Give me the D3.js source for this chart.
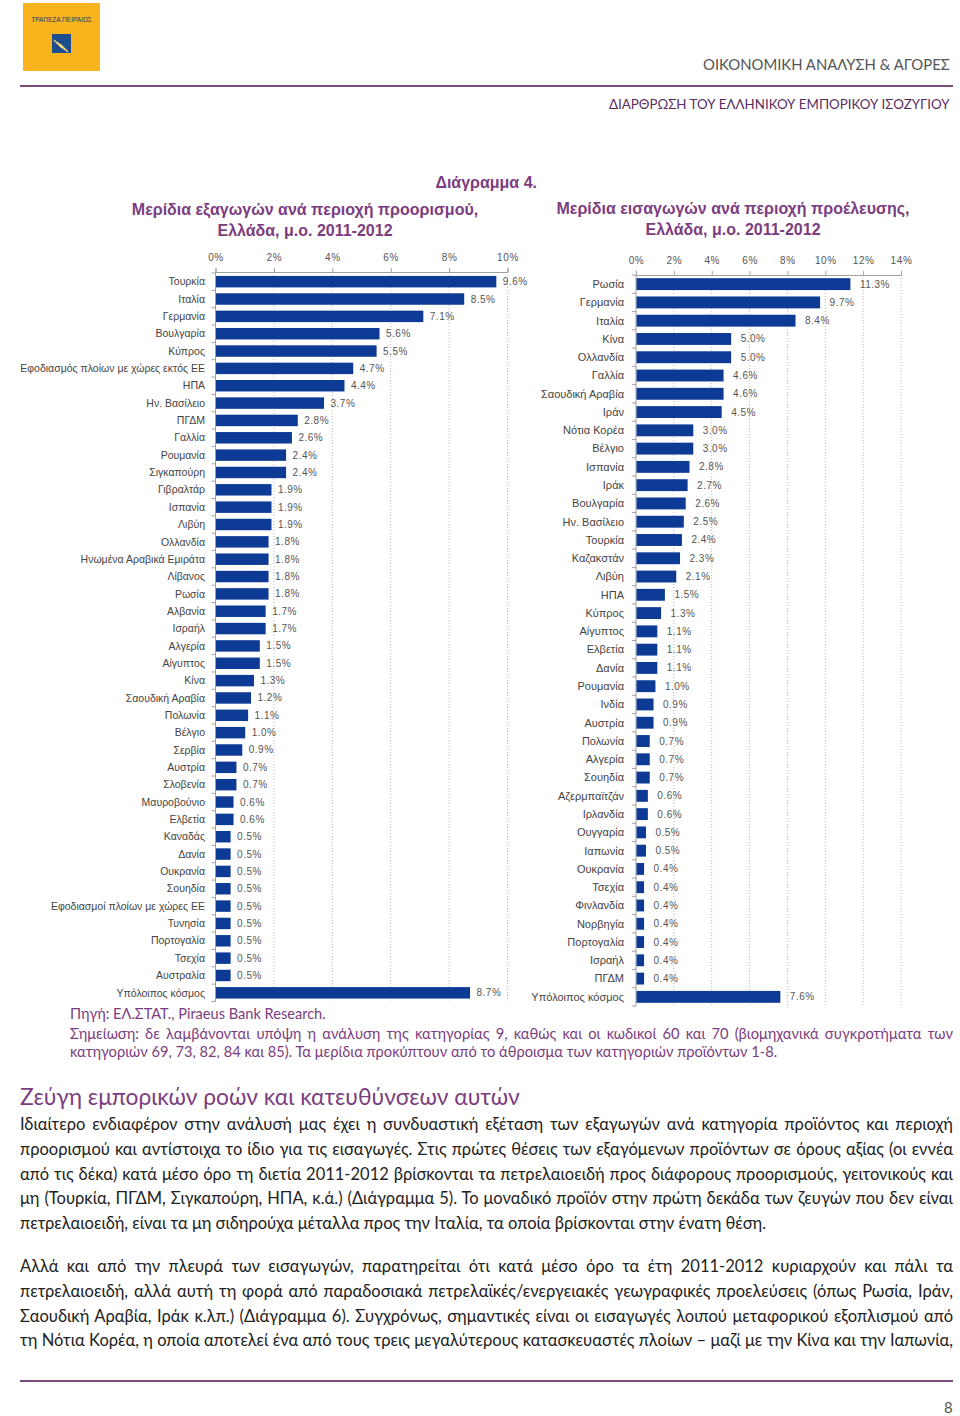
<!DOCTYPE html>
<html>
<head>
<meta charset="utf-8">
<script src="https://cdn.jsdelivr.net/npm/d3@7/dist/d3.min.js"></script>
<style>
  body { margin: 0; background: #fff; }
  #page { position: relative; width: 960px; height: 1416px; overflow: hidden; background: #fff; }
  svg { position: absolute; left: 0; top: 0; }
  .ln { position: absolute; line-height: 20px; height: 20px; font-family: "Lato", "Liberation Sans", sans-serif; white-space: normal; overflow: visible; }
  .fit { white-space: nowrap; }
  .j { text-align: justify; text-align-last: justify; }
</style>
</head>
<body>
<div id="page"></div>
<script>
// ---------------- DATA ----------------
const exportCategories = ["Τουρκία","Ιταλία","Γερμανία","Βουλγαρία","Κύπρος","Εφοδιασμός πλοίων με χώρες εκτός ΕΕ","ΗΠΑ","Ην. Βασίλειο","ΠΓΔΜ","Γαλλία","Ρουμανία","Σιγκαπούρη","Γιβραλτάρ","Ισπανία","Λιβύη","Ολλανδία","Ηνωμένα Αραβικά Εμιράτα","Λίβανος","Ρωσία","Αλβανία","Ισραήλ","Αλγερία","Αίγυπτος","Κίνα","Σαουδική Αραβία","Πολωνία","Βέλγιο","Σερβία","Αυστρία","Σλοβενία","Μαυροβούνιο","Ελβετία","Καναδάς","Δανία","Ουκρανία","Σουηδία","Εφοδιασμοί πλοίων με χώρες ΕΕ","Τυνησία","Πορτογαλία","Τσεχία","Αυστραλία","Υπόλοιπος κόσμος"];
const exportValues = [9.6,8.5,7.1,5.6,5.5,4.7,4.4,3.7,2.8,2.6,2.4,2.4,1.9,1.9,1.9,1.8,1.8,1.8,1.8,1.7,1.7,1.5,1.5,1.3,1.2,1.1,1.0,0.9,0.7,0.7,0.6,0.6,0.5,0.5,0.5,0.5,0.5,0.5,0.5,0.5,0.5,8.7];
const exportTicks = [0,2,4,6,8,10];

const importCategories = ["Ρωσία","Γερμανία","Ιταλία","Κίνα","Ολλανδία","Γαλλία","Σαουδική Αραβία","Ιράν","Νότια Κορέα","Βέλγιο","Ισπανία","Ιράκ","Βουλγαρία","Ην. Βασίλειο","Τουρκία","Καζακστάν","Λιβύη","ΗΠΑ","Κύπρος","Αίγυπτος","Ελβετία","Δανία","Ρουμανία","Ινδία","Αυστρία","Πολωνία","Αλγερία","Σουηδία","Αζερμπαϊτζάν","Ιρλανδία","Ουγγαρία","Ιαπωνία","Ουκρανία","Τσεχία","Φινλανδία","Νορβηγία","Πορτογαλία","Ισραήλ","ΠΓΔΜ","Υπόλοιπος κόσμος"];
const importValues = [11.3,9.7,8.4,5.0,5.0,4.6,4.6,4.5,3.0,3.0,2.8,2.7,2.6,2.5,2.4,2.3,2.1,1.5,1.3,1.1,1.1,1.1,1.0,0.9,0.9,0.7,0.7,0.7,0.6,0.6,0.5,0.5,0.4,0.4,0.4,0.4,0.4,0.4,0.4,7.6];
const importTicks = [0,2,4,6,8,10,12,14];

const diagramLabel = "Διάγραμμα 4.";
const exportTitle = ["Μερίδια εξαγωγών ανά περιοχή προορισμού,", "Ελλάδα, μ.ο. 2011-2012"];
const importTitle = ["Μερίδια εισαγωγών ανά περιοχή προέλευσης,", "Ελλάδα, μ.ο. 2011-2012"];

// ---------------- PAGE ----------------
const PURPLE = "#7b3d80";
const BAR = "#0c3a94";
const page = d3.select("#page");
const svg = page.append("svg").attr("width", 960).attr("height", 1416);

// Header logo
svg.append("rect").attr("x", 23).attr("y", 3).attr("width", 77).attr("height", 68).attr("fill", "#f8b31d");
svg.append("text").attr("x", 61.5).attr("y", 22).attr("text-anchor", "middle")
  .attr("font-family", "Liberation Sans Narrow, Liberation Sans, sans-serif").attr("font-size", 6.5)
  .attr("fill", "#1d3d7a").text("ΤΡΑΠΕΖΑ ΠΕΙΡΑΙΩΣ");
svg.append("rect").attr("x", 52).attr("y", 34).attr("width", 19).attr("height", 19).attr("fill", "#1c4d8f");
[0,1,2].forEach(i => {
  svg.append("path").attr("d", `M${54+i*3},${40+i*2} L${62+i*3},${48+i*2}`).attr("stroke", "#f8d77a").attr("stroke-width", 1.2);
});

// header lines
svg.append("line").attr("x1", 20).attr("x2", 953).attr("y1", 86).attr("y2", 86).attr("stroke", "#7a4d7c").attr("stroke-width", 2);
svg.append("line").attr("x1", 20).attr("x2", 953).attr("y1", 1381).attr("y2", 1381).attr("stroke", "#7a4d7c").attr("stroke-width", 2);

function addLine(text, opts) {
  const d = page.append("div").attr("class", "ln" + (opts.justify ? " j" : "") + (opts.fitWidth ? " fit" : "")).text(text)
    .style("left", opts.left + "px").style("top", (opts.cy - 10) + "px")
    .style("font-size", opts.size + "px").style("color", opts.color);
  if (opts.width) d.style("width", opts.width + "px");
  if (opts.fitWidth) {
    // scale font-size so the line spans the same width as in the reference
    const w = d.node().getBoundingClientRect().width;
    if (w > 0) d.style("font-size", (opts.size * opts.fitWidth / w) + "px");
    if (opts.right !== undefined) d.style("left", (opts.right - opts.fitWidth) + "px");
  }
  return d;
}

addLine("ΟΙΚΟΝΟΜΙΚΗ ΑΝΑΛΥΣΗ & ΑΓΟΡΕΣ", {right: 950, fitWidth: 247, cy: 64, size: 17, color: "#555"});
addLine("ΔΙΑΡΘΡΩΣΗ ΤΟΥ ΕΛΛΗΝΙΚΟΥ ΕΜΠΟΡΙΚΟΥ ΙΣΟΖΥΓΙΟΥ", {right: 950, fitWidth: 341, cy: 104, size: 15, color: "#5a2d5f"});

// Titles
const tfont = "Liberation Sans, Arial, sans-serif";
svg.append("text").attr("x", 537).attr("y", 188).attr("text-anchor", "end").attr("font-family", tfont)
  .attr("font-weight", "bold").attr("font-size", 16).attr("fill", PURPLE).text(diagramLabel);
exportTitle.forEach((t, i) => svg.append("text").attr("x", 305).attr("y", 215 + i * 21).attr("text-anchor", "middle")
  .attr("font-family", tfont).attr("font-weight", "bold").attr("font-size", 16).attr("fill", PURPLE).text(t));
importTitle.forEach((t, i) => svg.append("text").attr("x", 733).attr("y", 214 + i * 21).attr("text-anchor", "middle")
  .attr("font-family", tfont).attr("font-weight", "bold").attr("font-size", 16).attr("fill", PURPLE).text(t));

// Chart builder
function barChart(cfg) {
  const g = svg.append("g");
  const x = d3.scaleLinear().domain([0, cfg.max]).range([cfg.x0, cfg.x1]);
  const y = d3.scaleBand().domain(cfg.cats).range([cfg.y0, cfg.y1]).paddingInner(cfg.pad).paddingOuter(cfg.pad / 2);
  const data = cfg.cats.map((c, i) => ({c, v: cfg.vals[i]}));
  const font = "Liberation Sans, Arial, sans-serif";

  // gridlines
  g.selectAll(".grid").data(cfg.ticks.filter(t => t > 0)).join("line")
    .attr("x1", d => x(d)).attr("x2", d => x(d)).attr("y1", cfg.axisY).attr("y2", cfg.y1)
    .attr("stroke", "#b8b8b8").attr("stroke-width", 1).attr("stroke-dasharray", "1,2");

  // top axis
  const ax = d3.axisTop(x).tickValues(cfg.ticks).tickFormat(d => d + "%").tickSize(4).tickPadding(cfg.tickPad);
  const axg = g.append("g").attr("transform", `translate(0,${cfg.axisY})`).call(ax);
  axg.select(".domain").attr("stroke", "#a0a0a0");
  axg.selectAll(".tick line").attr("stroke", "#a0a0a0");
  axg.selectAll(".tick text").attr("font-family", font).attr("font-size", 10).attr("fill", "#555").attr("letter-spacing", 0.6);

  // left axis line + ticks at band boundaries
  g.append("line").attr("x1", cfg.x0).attr("x2", cfg.x0).attr("y1", cfg.axisY).attr("y2", cfg.y1).attr("stroke", "#a0a0a0");
  const step = y.step();
  const bounds = d3.range(cfg.cats.length + 1).map(i => cfg.y0 + i * step);
  g.selectAll(".yt").data(bounds).join("line")
    .attr("x1", cfg.x0 - 4).attr("x2", cfg.x0).attr("y1", d => d).attr("y2", d => d).attr("stroke", "#a0a0a0");

  // bars
  g.selectAll(".bar").data(data).join("rect")
    .attr("x", x(0) + 0.5).attr("y", d => y(d.c)).attr("width", d => x(d.v) - x(0)).attr("height", y.bandwidth())
    .attr("fill", BAR);

  // category labels
  g.selectAll(".cl").data(data).join("text")
    .attr("x", cfg.labelX).attr("y", d => y(d.c) + y.bandwidth() / 2).attr("dy", "0.35em").attr("text-anchor", "end")
    .attr("font-family", font).attr("font-size", cfg.labelSize).attr("fill", "#444").text(d => d.c);

  // value labels
  g.selectAll(".vl").data(data).join("text")
    .attr("x", d => x(d.v) + cfg.gap).attr("y", d => y(d.c) + y.bandwidth() / 2).attr("dy", "0.35em")
    .attr("font-family", font).attr("font-size", 10).attr("fill", "#555").attr("letter-spacing", 0.5)
    .text(d => d.v.toFixed(1) + "%");
}

barChart({cats: exportCategories, vals: exportValues, ticks: exportTicks, max: 10,
  x0: 215.5, x1: 507.5, axisY: 272, y0: 273, y1: 1001.5, pad: 0.34, labelX: 205, labelSize: 10.5, gap: 7, tickPad: 7.5});
barChart({cats: importCategories, vals: importValues, ticks: importTicks, max: 14,
  x0: 636, x1: 901, axisY: 275, y0: 275, y1: 1006, pad: 0.35, labelX: 624, labelSize: 11, gap: 10, tickPad: 7.5});

// Source & notes
addLine("Πηγή: ΕΛ.ΣΤΑΤ., Piraeus Bank Research.", {left: 70, fitWidth: 256, cy: 1014, size: 15, color: PURPLE});
addLine("Σημείωση: δε λαμβάνονται υπόψη η ανάλυση της κατηγορίας 9, καθώς και οι κωδικοί 60 και 70 (βιομηχανικά συγκροτήματα των", {left: 70, width: 883, justify: true, cy: 1033, size: 14.7, color: PURPLE});
addLine("κατηγοριών 69, 73, 82, 84 και 85). Τα μερίδια προκύπτουν από το άθροισμα των κατηγοριών προϊόντων 1-8.", {left: 70, fitWidth: 707, cy: 1052, size: 14.7, color: PURPLE});

// Heading
addLine("Ζεύγη εμπορικών ροών και κατευθύνσεων αυτών", {left: 20, fitWidth: 500, cy: 1096, size: 23, color: PURPLE});

const para1 = [
  "Ιδιαίτερο ενδιαφέρον στην ανάλυσή μας έχει η συνδυαστική εξέταση των εξαγωγών ανά κατηγορία προϊόντος και περιοχή",
  "προορισμού και αντίστοιχα το ίδιο για τις εισαγωγές. Στις πρώτες θέσεις των εξαγόμενων προϊόντων σε όρους αξίας (οι εννέα",
  "από τις δέκα) κατά μέσο όρο τη διετία 2011-2012 βρίσκονται τα πετρελαιοειδή προς διάφορους προορισμούς, γειτονικούς και",
  "μη (Τουρκία, ΠΓΔΜ, Σιγκαπούρη, ΗΠΑ, κ.ά.) (Διάγραμμα 5). Το μοναδικό προϊόν στην πρώτη δεκάδα των ζευγών που δεν είναι",
  "πετρελαιοειδή, είναι τα μη σιδηρούχα μέταλλα προς την Ιταλία, τα οποία βρίσκονται στην ένατη θέση."
];
const para2 = [
  "Αλλά και από την πλευρά των εισαγωγών, παρατηρείται ότι κατά μέσο όρο τα έτη 2011-2012 κυριαρχούν και πάλι τα",
  "πετρελαιοειδή, αλλά αυτή τη φορά από παραδοσιακά πετρελαϊκές/ενεργειακές γεωγραφικές προελεύσεις (όπως Ρωσία, Ιράν,",
  "Σαουδική Αραβία, Ιράκ κ.λπ.) (Διάγραμμα 6). Συγχρόνως, σημαντικές είναι οι εισαγωγές λοιπού μεταφορικού εξοπλισμού από",
  "τη Νότια Κορέα, η οποία αποτελεί ένα από τους τρεις μεγαλύτερους κατασκευαστές πλοίων – μαζί με την Κίνα και την Ιαπωνία,"
];
para1.forEach((t, i) => addLine(t, {left: 20, width: 933, justify: i < para1.length - 1, cy: 1124 + i * 24.75, size: 16.5, color: "#222"}));
para2.forEach((t, i) => addLine(t, {left: 20, width: 933, justify: true, cy: 1266 + i * 24.75, size: 16.5, color: "#222"}));

addLine("8", {left: 944, cy: 1407, size: 15, color: "#555"});
</script>
</body>
</html>
